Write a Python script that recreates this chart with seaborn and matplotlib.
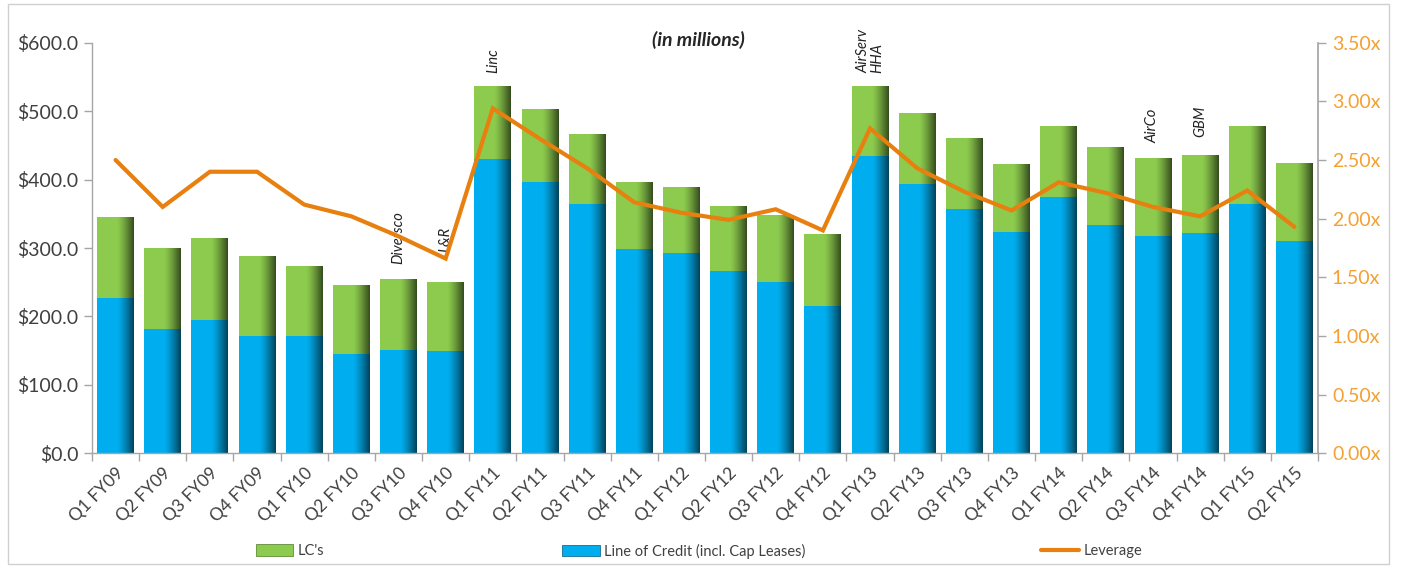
import numpy as np
import pandas as pd
import matplotlib
matplotlib.use("Agg")
import matplotlib.pyplot as plt
import seaborn as sns
from matplotlib.patches import Patch, Rectangle
from matplotlib.lines import Line2D

quarters = ["Q1 FY09", "Q2 FY09", "Q3 FY09", "Q4 FY09", "Q1 FY10", "Q2 FY10", "Q3 FY10", "Q4 FY10",
            "Q1 FY11", "Q2 FY11", "Q3 FY11", "Q4 FY11", "Q1 FY12", "Q2 FY12", "Q3 FY12", "Q4 FY12",
            "Q1 FY13", "Q2 FY13", "Q3 FY13", "Q4 FY13", "Q1 FY14", "Q2 FY14", "Q3 FY14", "Q4 FY14",
            "Q1 FY15", "Q2 FY15"]
line_of_credit = [227, 182, 195, 172, 172, 145, 151, 150, 430, 397, 365, 299, 293, 266, 251, 215,
                  435, 394, 357, 324, 374, 334, 317, 322, 364, 310]
lcs = [118, 118, 119, 117, 101, 101, 103, 100, 106, 106, 102, 97, 96, 96, 97, 105,
       102, 103, 104, 99, 104, 113, 115, 114, 114, 114]
leverage = [2.50, 2.10, 2.40, 2.40, 2.12, 2.02, 1.85, 1.66, 2.94, 2.68, 2.43, 2.14, 2.05, 1.99, 2.08, 1.90,
            2.77, 2.43, 2.23, 2.07, 2.31, 2.22, 2.10, 2.02, 2.24, 1.93]
left_ticks = [0, 100, 200, 300, 400, 500, 600]
right_ticks = [0, 0.5, 1.0, 1.5, 2.0, 2.5, 3.0, 3.5]
acquisitions = [(6, "Diversco", 23), (7, "L&R", 44), (8, "Linc", 20), (16, "AirServ\nHHA", 19),
                (22, "AirCo", 21), (23, "GBM", 26)]

df = pd.DataFrame({"quarter": quarters, "loc": line_of_credit, "lcs": lcs, "lev": leverage})
df["total"] = df["loc"] + df["lcs"]

GREEN = "#8DCB4E"
BLUE = "#00AEEF"
ORANGE = "#E8800F"
ORANGE_TXT = "#F5A032"
TXT = "#404040"

sns.set_theme(style="white")
plt.rcParams["font.family"] = ["Lato", "DejaVu Sans"]

fig = plt.figure(figsize=(14.01, 5.68), dpi=100)
ax = fig.add_axes([92 / 1401, 1 - 453.3 / 568, (1318 - 92) / 1401, (453.3 - 42.7) / 568])

sns.barplot(data=df, x="quarter", y="total", color=GREEN, saturation=1, width=0.78, ax=ax, zorder=2)
sns.barplot(data=df, x="quarter", y="loc", color=BLUE, saturation=1, width=0.78, ax=ax, zorder=2)

# gradient shading on bars
def shade(color, n=64):
    base = np.array(matplotlib.colors.to_rgb(color))
    t = np.linspace(0, 1, n)
    f = np.clip((t - 0.55) / 0.45, 0, 1) ** 1.3
    arr = base[None, :] * (1 - 0.62 * f[:, None])
    return arr[None, :, :]

grads = {}
for p in list(ax.patches):
    fc = matplotlib.colors.to_hex(p.get_facecolor())
    if fc not in grads:
        grads[fc] = shade(fc)
    x0, y0, w, h = p.get_x(), p.get_y(), p.get_width(), p.get_height()
    im = ax.imshow(grads[fc], extent=[x0, x0 + w, y0, y0 + h], aspect="auto",
                   zorder=2.5, interpolation="bilinear")
    im.set_clip_path(p)

ax.set_xlim(-0.5, len(quarters) - 0.5)
ax.set_ylim(0, 600)
ax.set_yticks(left_ticks)
ax.set_yticklabels([f"${v:.1f}" for v in left_ticks], fontsize=14, color=TXT)
ax.set_xlabel("")
ax.set_ylabel("")
ax.set_xticks(range(len(quarters)))
ax.set_xticklabels(quarters, rotation=45, ha="right", rotation_mode="anchor", fontsize=12.5, color=TXT)
ax.set_xticks(np.arange(-0.5, len(quarters), 1), minor=True)
ax.tick_params(axis="x", which="major", length=0, pad=8)
ax.tick_params(axis="x", which="minor", length=6, color="#A6A6A6", width=1, direction="out", bottom=True)
ax.tick_params(axis="y", length=6, color="#A6A6A6", width=1, direction="out", left=True, pad=4)
for s in ["top", "right"]:
    ax.spines[s].set_visible(False)
for s in ["left", "bottom"]:
    ax.spines[s].set_color("#A6A6A6")
    ax.spines[s].set_linewidth(1)

for idx, label, off in acquisitions:
    ax.text(idx, df["total"][idx] + off, label, rotation=90, ha="center", va="bottom",
            multialignment="left", fontsize=10.5, style="italic", color="#222222", zorder=5,
            linespacing=1.0)

ax2 = ax.twinx()
sns.lineplot(x=np.arange(len(quarters)), y=df["lev"], color=ORANGE, linewidth=3, ax=ax2,
             solid_joinstyle="miter", zorder=4)
ax2.set_ylim(0, 3.5)
ax2.set_yticks(right_ticks)
ax2.set_yticklabels([f"{v:.2f}x" for v in right_ticks], fontsize=14, color=ORANGE_TXT)
ax2.set_ylabel("")
ax2.tick_params(axis="y", length=6, color="#A6A6A6", width=1, direction="out", right=True, pad=4)
for s in ["top", "left", "bottom"]:
    ax2.spines[s].set_visible(False)
ax2.spines["right"].set_color("#A6A6A6")
ax2.set_xlim(-0.5, len(quarters) - 0.5)

fig.text(698 / 1401, 1 - 40 / 568, "(in millions)", ha="center", va="center", fontsize=14,
         style="italic", fontweight="bold", color="#262626")

leg_y = 1 - 551 / 568
entries = [(290, Patch(facecolor=GREEN, edgecolor="#4C7A22", linewidth=0.5), "LC's"),
           (684, Patch(facecolor=BLUE, edgecolor="#005A7D", linewidth=0.5), "Line of Credit (incl. Cap Leases)"),
           (1092, Line2D([0], [0], color=ORANGE, linewidth=3), "Leverage")]
for cx, h, lab in entries:
    lg = fig.legend([h], [lab], loc="center", bbox_to_anchor=(cx / 1401, leg_y), frameon=False,
                    fontsize=10.5, handlelength=2.6, handleheight=0.8, handletextpad=0.3)
    for t in lg.get_texts():
        t.set_color(TXT)

fig.patches.append(Rectangle((8 / 1401, 1 - 564 / 568), (1389 - 8) / 1401, (564 - 4) / 568,
                             transform=fig.transFigure, fill=False, edgecolor="#D0D0D0", linewidth=1))

fig.savefig("out.png", dpi=100, facecolor="white")
